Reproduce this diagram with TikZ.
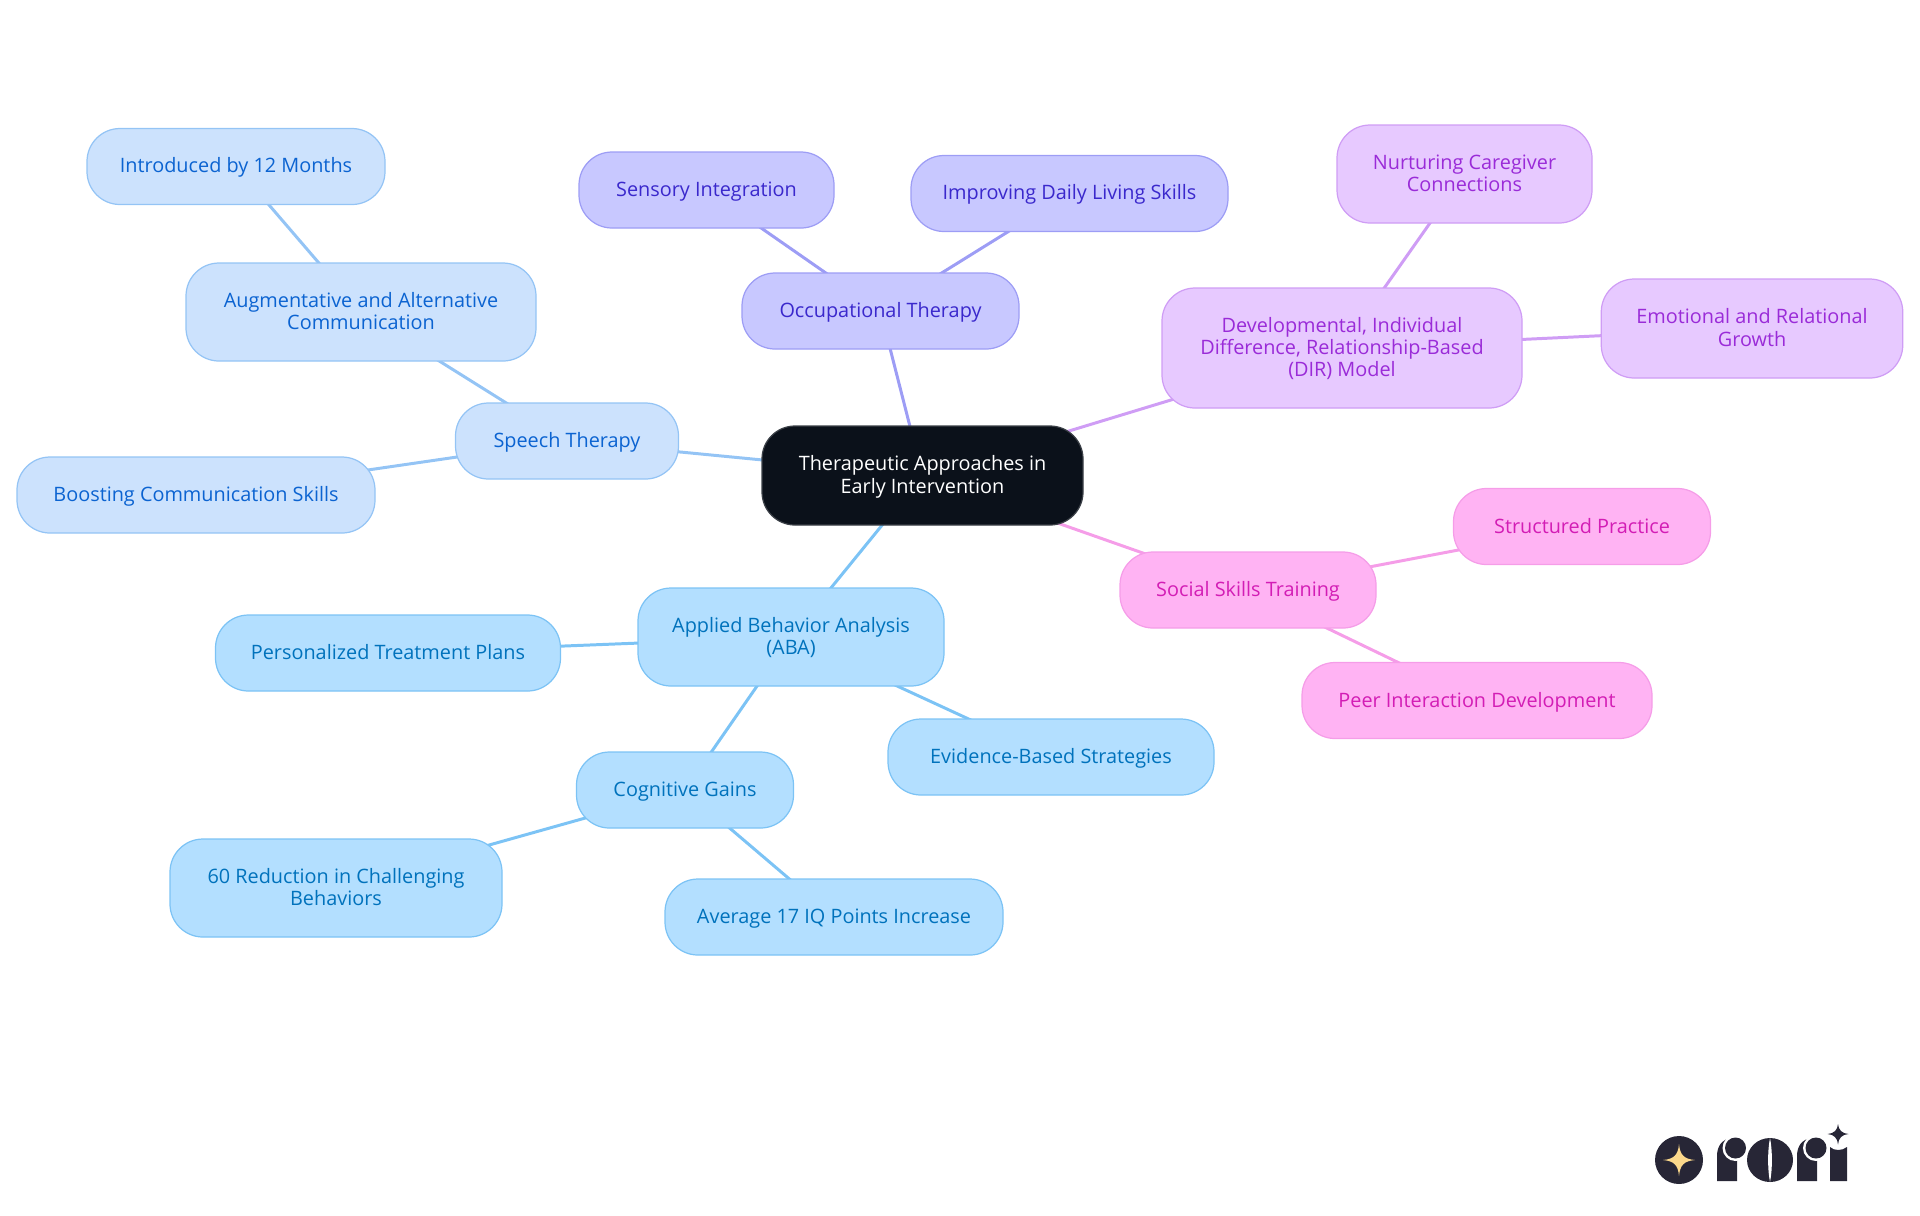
\documentclass[tikz,border=0pt]{standalone}
\usepackage{fontspec}
\setmainfont{Open Sans}
\usepackage{tikz}
\usetikzlibrary{backgrounds}
\definecolor{rootfill}{HTML}{0B111A}
\definecolor{rootline}{HTML}{3B4047}
\definecolor{abafill}{HTML}{B3DFFF}
\definecolor{abaline}{HTML}{7CC3F5}
\definecolor{abatext}{HTML}{0072BC}
\definecolor{speechfill}{HTML}{CCE2FD}
\definecolor{speechline}{HTML}{94C4F5}
\definecolor{speechtext}{HTML}{0B63D1}
\definecolor{otfill}{HTML}{C8C8FF}
\definecolor{otline}{HTML}{9D9DF5}
\definecolor{ottext}{HTML}{3A28CC}
\definecolor{dirfill}{HTML}{E7C9FF}
\definecolor{dirline}{HTML}{CF9DF5}
\definecolor{dirtext}{HTML}{9A2BD8}
\definecolor{socialfill}{HTML}{FFB3F3}
\definecolor{socialline}{HTML}{F59DE8}
\definecolor{socialtext}{HTML}{D31DB5}
\definecolor{logoink}{HTML}{272636}
\definecolor{logostar}{HTML}{FBD88B}
\tikzset{
  mapnode/.style 2 args={rectangle,rounded corners=0.66cm,line width=0.7pt,align=center,inner sep=0pt,text depth=1.2pt,
    font=\fontsize{11.3}{12.7}\selectfont,minimum width=#1*0.02cm,minimum height=#2*0.02cm},
  rootnode/.style 2 args={mapnode={#1}{#2},draw=rootline,fill=rootfill,text=white},
  abanode/.style 2 args={mapnode={#1}{#2},draw=abaline,fill=abafill,text=abatext},
  speechnode/.style 2 args={mapnode={#1}{#2},draw=speechline,fill=speechfill,text=speechtext},
  otnode/.style 2 args={mapnode={#1}{#2},draw=otline,fill=otfill,text=ottext},
  dirnode/.style 2 args={mapnode={#1}{#2},draw=dirline,fill=dirfill,text=dirtext},
  socialnode/.style 2 args={mapnode={#1}{#2},draw=socialline,fill=socialfill,text=socialtext},
  branch/.style={line width=1.7pt}
}
\begin{document}
\begin{tikzpicture}[x=0.02cm,y=-0.02cm]
  \useasboundingbox (0,0) rectangle (1920,1215);
  \node[rootnode={321}{99}]     (root)   at (922.5,475.5) {Therapeutic Approaches in\\Early Intervention};
  \node[abanode={306}{98}]      (aba)    at (791,637)     {Applied Behavior Analysis\\(ABA)};
  \node[abanode={345}{76}]      (plans)  at (388,653)     {Personalized Treatment Plans};
  \node[abanode={326}{76}]      (evid)   at (1051,757)    {Evidence-Based Strategies};
  \node[abanode={217}{76}]      (cog)    at (685,790)     {Cognitive Gains};
  \node[abanode={332}{98}]      (reduce) at (336,888)     {60 Reduction in Challenging\\Behaviors};
  \node[abanode={338}{76}]      (iq)     at (834,917)     {Average 17 IQ Points Increase};
  \node[speechnode={223}{76}]   (speech) at (567,441)     {Speech Therapy};
  \node[speechnode={350}{98}]   (aug)    at (361,312)     {Augmentative and Alternative\\Communication};
  \node[speechnode={298}{76}]   (intro)  at (236,166.5)   {Introduced by 12 Months};
  \node[speechnode={358}{76}]   (boost)  at (196,495)     {Boosting Communication Skills};
  \node[otnode={277}{76}]       (occ)    at (880.5,311)   {Occupational Therapy};
  \node[otnode={255}{76}]       (sens)   at (706.5,190)   {Sensory Integration};
  \node[otnode={317}{76}]       (daily)  at (1069.5,193.5) {Improving Daily Living Skills};
  \node[dirnode={360}{120}]     (dir)    at (1342,348)    {Developmental, Individual\\Difference, Relationship-Based\\(DIR) Model};
  \node[dirnode={255}{98}]      (nurt)   at (1464.5,174)  {Nurturing Caregiver\\Connections};
  \node[dirnode={301.5}{99}]    (emo)    at (1752,328.5)  {Emotional and Relational\\Growth};
  \node[socialnode={256}{76}]   (social) at (1248,590)    {Social Skills Training};
  \node[socialnode={257}{76}]   (struct) at (1582,526.5)  {Structured Practice};
  \node[socialnode={350}{76}]   (peer)   at (1477,700.5)  {Peer Interaction Development};
  \begin{pgfonlayer}{background}
    \path[branch,draw=abaline] (root.center) edge (aba.center)
      (aba.center) edge (plans.center) edge (evid.center) edge (cog.center)
      (cog.center) edge (reduce.center) edge (iq.center);
    \path[branch,draw=speechline] (root.center) edge (speech.center)
      (speech.center) edge (aug.center) edge (boost.center)
      (aug.center) edge (intro.center);
    \path[branch,draw=otline] (root.center) edge (occ.center)
      (occ.center) edge (sens.center) edge (daily.center);
    \path[branch,draw=dirline] (root.center) edge (dir.center)
      (dir.center) edge (nurt.center) edge (emo.center);
    \path[branch,draw=socialline] (root.center) edge (social.center)
      (social.center) edge (struct.center) edge (peer.center);
  \end{pgfonlayer}
  % logo
  \fill[logoink] (1679,1160) circle (24);
  \fill[logostar] (1679,1144) .. controls (1680,1155) and (1684,1159) .. (1695,1160)
    .. controls (1684,1161) and (1680,1165) .. (1679,1176)
    .. controls (1678,1165) and (1674,1161) .. (1663,1160)
    .. controls (1674,1159) and (1678,1155) .. (1679,1144) -- cycle;
  \fill[logoink] (1717,1181) -- (1717,1156) .. controls (1717,1146) and (1722,1139) .. (1732,1138)
    -- (1737,1150) -- (1737,1181) -- cycle;
  \fill[white] (1735.5,1148) circle (13);
  \fill[logoink] (1735.5,1148) circle (10.5);
  \fill[logoink] (1770,1160) ellipse (23 and 22);
  \fill[white] (1770,1138) .. controls (1767.5,1150) and (1767.5,1170) .. (1770,1182)
    .. controls (1772.5,1170) and (1772.5,1150) .. (1770,1138) -- cycle;
  \fill[logoink] (1797,1181) -- (1797,1156) .. controls (1797,1146) and (1802,1139) .. (1812,1138)
    -- (1817,1150) -- (1817,1181) -- cycle;
  \fill[white] (1816,1148) circle (13);
  \fill[logoink] (1816,1148) circle (10.5);
  \fill[logoink] (1830,1181) -- (1830,1147) .. controls (1834,1151) and (1842,1151) .. (1847,1147)
    -- (1847,1181) -- cycle;
  \fill[logoink] (1838,1124) .. controls (1838.5,1130) and (1842,1133.5) .. (1848.5,1134)
    .. controls (1842,1134.5) and (1838.5,1138) .. (1838,1144.5)
    .. controls (1837.5,1138) and (1834,1134.5) .. (1827.5,1134)
    .. controls (1834,1133.5) and (1837.5,1130) .. (1838,1124) -- cycle;
\end{tikzpicture}
\end{document}
